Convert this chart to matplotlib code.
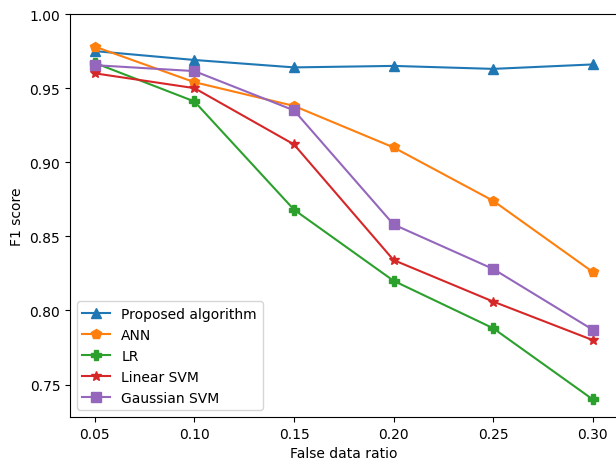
import matplotlib
matplotlib.use("Agg")
from matplotlib import pyplot as plt

# false data ratio on x
ratio = [0.05, 0.10, 0.15, 0.20, 0.25, 0.30]

# F1 scores
proposed = [0.975, 0.969, 0.964, 0.965, 0.963, 0.966]
ann = [0.978, 0.954, 0.938, 0.910, 0.874, 0.826]
lr = [0.967, 0.941, 0.868, 0.820, 0.788, 0.740]
linear_svm = [0.960, 0.950, 0.912, 0.834, 0.806, 0.780]
gaussian_svm = [0.9655, 0.9615, 0.935, 0.858, 0.828, 0.787]

fig = plt.figure(figsize=(6.16, 4.6), dpi=100)
ax = fig.add_axes([0.1136, 0.0913, 0.889, 0.876])

ax.plot(ratio, proposed, marker='^', markersize=7, label='Proposed algorithm')
ax.plot(ratio, ann, marker='p', markersize=7, label='ANN')
ax.plot(ratio, lr, marker='P', markersize=7, label='LR')
ax.plot(ratio, linear_svm, marker='*', markersize=7, label='Linear SVM')
ax.plot(ratio, gaussian_svm, marker='s', markersize=7, label='Gaussian SVM')

ax.set_ylim(top=1.0)
ax.set_xticks(ratio)
ax.set_xlabel("False data ratio")
ax.set_ylabel("F1 score")
ax.legend(loc='lower left')
# the original image is cropped just before the right spine
ax.spines['right'].set_visible(False)

fig.savefig("out.png", dpi=100)
